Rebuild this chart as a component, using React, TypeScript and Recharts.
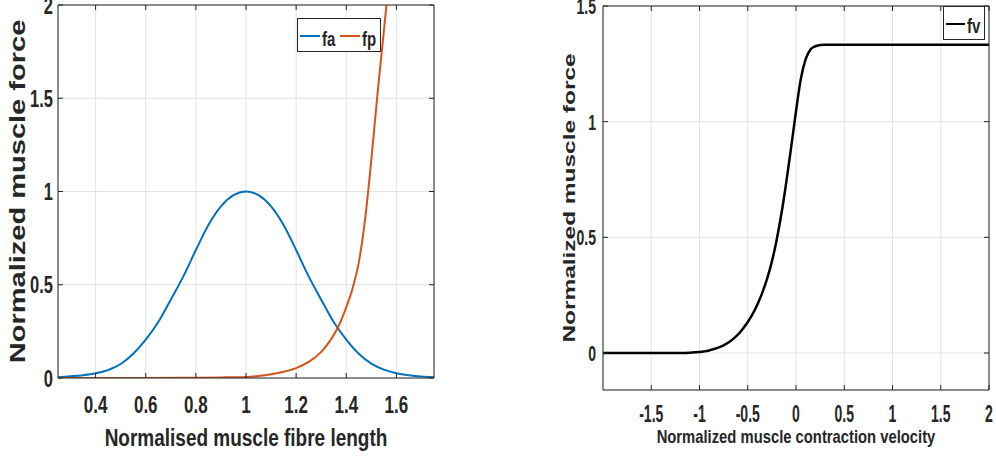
import React from 'react';
import { LineChart, Line, XAxis, YAxis, CartesianGrid, Legend, Label } from 'recharts';

// ---------- data ----------
const lengthPoints = [0.25, 0.3, 0.35, 0.4, 0.45, 0.5, 0.55, 0.6, 0.65, 0.7, 0.75, 0.8, 0.85, 0.9, 0.95, 1, 1.05, 1.1, 1.15, 1.2, 1.25, 1.3, 1.35, 1.4, 1.45, 1.5, 1.55, 1.6, 1.65, 1.7, 1.75];
const faValues = [0.004, 0.009, 0.015, 0.025, 0.043, 0.075, 0.13, 0.206, 0.3, 0.42, 0.545, 0.686, 0.82, 0.92, 0.98, 1, 0.98, 0.92, 0.82, 0.686, 0.545, 0.42, 0.3, 0.206, 0.13, 0.077, 0.045, 0.026, 0.015, 0.008, 0.004];

const fpLengths = [0.25, 0.5, 0.75, 0.9, 1, 1.05, 1.1, 1.15, 1.2, 1.25, 1.3, 1.325, 1.35, 1.375, 1.4, 1.425, 1.45, 1.475, 1.5, 1.525, 1.55, 1.575, 1.6];
const fpValues = [0, 0, 0.001, 0.003, 0.006, 0.011, 0.02, 0.033, 0.053, 0.086, 0.14, 0.18, 0.23, 0.295, 0.38, 0.48, 0.62, 0.85, 1.17, 1.53, 1.86, 2.2, 2.55];

const velocityPoints = [-2, -1.5, -1.2, -1.1, -1, -0.95, -0.9, -0.85, -0.8, -0.75, -0.7, -0.65, -0.6, -0.55, -0.5, -0.45, -0.4, -0.35, -0.3, -0.25, -0.2, -0.15, -0.1, -0.05, 0, 0.05, 0.1, 0.15, 0.2, 0.25, 0.3, 0.4, 0.5, 1, 1.5, 2];
const fvValues = [0, 0, 0, 0.001, 0.004, 0.007, 0.011, 0.017, 0.024, 0.033, 0.045, 0.061, 0.08, 0.105, 0.134, 0.168, 0.21, 0.26, 0.32, 0.395, 0.49, 0.605, 0.74, 0.89, 1.045, 1.185, 1.27, 1.312, 1.326, 1.331, 1.333, 1.333, 1.333, 1.333, 1.333, 1.333];

const lengthTicks = [0.4, 0.6, 0.8, 1, 1.2, 1.4, 1.6];
const leftForceTicks = [0, 0.5, 1, 1.5, 2];
const velocityTicks = [-1.5, -1, -0.5, 0, 0.5, 1, 1.5, 2];
const rightForceTicks = [0, 0.5, 1, 1.5];

const seriesNames = ['fa', 'fp', 'fv'];
const leftXLabel = 'Normalised muscle fibre length';
const rightXLabel = 'Normalized muscle contraction velocity';
const yLabelText = 'Normalized muscle force';

const faData = lengthPoints.map((x, i) => ({ x, y: faValues[i] }));
const fpData = fpLengths.map((x, i) => ({ x, y: fpValues[i] }));
const fvData = velocityPoints.map((x, i) => ({ x, y: fvValues[i] }));

// ---------- styling ----------
const AX = '#262626';
const GRID = '#e3e3e3';
const FONT = '"Liberation Sans", Arial, Helvetica, sans-serif';

const makeBottomTick = (fontSize: number, sy: number, dy: number) => (props: any) => {
  const { x, y, payload } = props;
  return (
    <g>
      <line x1={x} y1={y} x2={x} y2={y - 5} stroke={AX} strokeWidth={1} />
      <text
        transform={`translate(${x},${y + dy}) scale(1,${sy})`}
        textAnchor="middle"
        fontFamily={FONT}
        fontWeight={700}
        fontSize={fontSize}
        fill={AX}
      >
        {String(payload.value)}
      </text>
    </g>
  );
};

const makeLeftTick = (fontSize: number, sy: number, gap: number) => (props: any) => {
  const { x, y, payload } = props;
  const half = (fontSize * 0.716 * sy) / 2;
  return (
    <g>
      <line x1={x} y1={y} x2={x + 5} y2={y} stroke={AX} strokeWidth={1} />
      <text
        transform={`translate(${x - gap},${y + half}) scale(1,${sy})`}
        textAnchor="end"
        fontFamily={FONT}
        fontWeight={700}
        fontSize={fontSize}
        fill={AX}
      >
        {String(payload.value)}
      </text>
    </g>
  );
};

const TopTick = (props: any) => {
  const { x, y } = props;
  return <line x1={x} y1={y} x2={x} y2={y + 5} stroke={AX} strokeWidth={1} />;
};
const RightTick = (props: any) => {
  const { x, y } = props;
  return <line x1={x} y1={y} x2={x - 5} y2={y} stroke={AX} strokeWidth={1} />;
};

const makeXLabel = (text: string, fontSize: number, sy: number, dy: number) => (props: any) => {
  const vb = props.viewBox || {};
  const cx = (vb.x ?? 0) + (vb.width ?? 0) / 2;
  const by = (vb.y ?? 0) + dy;
  return (
    <text
      transform={`translate(${cx},${by}) scale(1,${sy})`}
      textAnchor="middle"
      fontFamily={FONT}
      fontWeight={700}
      fontSize={fontSize}
      fill={AX}
    >
      {text}
    </text>
  );
};

const makeYLabel = (text: string, fontSize: number, stretch: number, dx: number) => (props: any) => {
  const vb = props.viewBox || {};
  const bx = (vb.x ?? 0) + (vb.width ?? 0) + dx;
  const cy = (vb.y ?? 0) + (vb.height ?? 0) / 2;
  return (
    <text
      transform={`translate(${bx},${cy}) scale(1,${stretch}) rotate(-90)`}
      textAnchor="middle"
      fontFamily={FONT}
      fontWeight={700}
      fontSize={fontSize}
      fill={AX}
    >
      {text}
    </text>
  );
};

const makeLegend = (w: number, h: number, lineLen: number, entryW: number, fontSize: number, sy: number, baseline: number) => (props: any) => {
  const payload = props.payload || [];
  return (
    <svg width={w} height={h} style={{ display: 'block' }}>
      <rect x={0.5} y={0.5} width={w - 1} height={h - 1} fill="#ffffff" stroke={AX} strokeWidth={1} />
      {payload.map((p: any, i: number) => {
        const x0 = 3 + i * entryW;
        return (
          <g key={i}>
            <line x1={x0} y1={h / 2 + 1} x2={x0 + lineLen} y2={h / 2 + 1} stroke={p.color} strokeWidth={2} />
            <text
              transform={`translate(${x0 + lineLen + 2},${baseline}) scale(1,${sy})`}
              fontFamily={FONT}
              fontWeight={700}
              fontSize={fontSize}
              fill={AX}
            >
              {p.value}
            </text>
          </g>
        );
      })}
    </svg>
  );
};

const commonAxis = {
  type: 'number' as const,
  allowDataOverflow: true,
  tickSize: 0,
  tickMargin: 0,
  tickLine: false,
  axisLine: { stroke: AX },
  interval: 0 as const,
};

export default function App() {
  return (
    <div style={{ position: 'absolute', left: 0, top: 0, width: 996, height: 464, background: '#ffffff', overflow: 'hidden' }}>
      {/* left panel */}
      <div style={{ position: 'absolute', left: 0, top: 0 }}>
        <LineChart width={450} height={464} margin={{ top: 4, left: 57, right: 15, bottom: 85 }}>
          <CartesianGrid stroke={GRID} strokeWidth={1} />
          <XAxis
            {...commonAxis}
            dataKey="x"
            domain={[0.25, 1.75]}
            ticks={lengthTicks}
            height={1}
            tick={makeBottomTick(17, 1.45, 35)}
            label={<Label content={makeXLabel(leftXLabel, 19, 1.3, 68)} />}
          />
          <XAxis
            {...commonAxis}
            xAxisId="top"
            orientation="top"
            dataKey="x"
            domain={[0.25, 1.75]}
            ticks={lengthTicks}
            height={1}
            tick={TopTick}
          />
          <YAxis
            {...commonAxis}
            domain={[0, 2]}
            ticks={leftForceTicks}
            width={1}
            tick={makeLeftTick(16.5, 1.45, 5)}
            label={<Label content={makeYLabel(yLabelText, 22, 1.32, -33)} />}
          />
          <YAxis
            {...commonAxis}
            yAxisId="right"
            orientation="right"
            domain={[0, 2]}
            ticks={leftForceTicks}
            width={1}
            tick={RightTick}
          />
          <Line data={faData} dataKey="y" name={seriesNames[0]} type="monotone" stroke="#0072BD" strokeWidth={2} dot={false} isAnimationActive={false} />
          <Line data={fpData} dataKey="y" name={seriesNames[1]} type="monotone" stroke="#D95319" strokeWidth={2} dot={false} isAnimationActive={false} />
          <Legend
            layout="horizontal"
            verticalAlign="middle"
            align="center"
            content={makeLegend(84, 34, 20, 40, 15, 1.37, 28)}
            wrapperStyle={{ position: 'absolute', left: 297, top: 18, width: 84, height: 34, margin: 0, padding: 0 }}
          />
        </LineChart>
      </div>

      {/* right panel */}
      <div style={{ position: 'absolute', left: 540, top: 0 }}>
        <LineChart width={456} height={464} margin={{ top: 5, left: 62, right: 6, bottom: 73 }}>
          <CartesianGrid stroke={GRID} strokeWidth={1} />
          <XAxis
            {...commonAxis}
            dataKey="x"
            domain={[-2, 2]}
            ticks={velocityTicks}
            height={1}
            tick={makeBottomTick(14, 1.65, 32)}
            label={<Label content={makeXLabel(rightXLabel, 14.8, 1.26, 53)} />}
          />
          <XAxis
            {...commonAxis}
            xAxisId="top"
            orientation="top"
            dataKey="x"
            domain={[-2, 2]}
            ticks={velocityTicks}
            height={1}
            tick={TopTick}
          />
          <YAxis
            {...commonAxis}
            domain={[-0.16, 1.5]}
            ticks={rightForceTicks}
            width={1}
            tick={makeLeftTick(14, 1.6, 7)}
            label={<Label content={makeYLabel(yLabelText, 16.3, 1.5, -28)} />}
          />
          <YAxis
            {...commonAxis}
            yAxisId="right"
            orientation="right"
            domain={[-0.16, 1.5]}
            ticks={rightForceTicks}
            width={1}
            tick={RightTick}
          />
          <Line data={fvData} dataKey="y" name={seriesNames[2]} type="monotone" stroke="#000000" strokeWidth={2.5} dot={false} isAnimationActive={false} />
          <Legend
            layout="horizontal"
            verticalAlign="middle"
            align="center"
            content={makeLegend(42, 34, 19, 40, 15, 1.37, 27)}
            wrapperStyle={{ position: 'absolute', left: 403, top: 6, width: 42, height: 34, margin: 0, padding: 0 }}
          />
        </LineChart>
      </div>
    </div>
  );
}
